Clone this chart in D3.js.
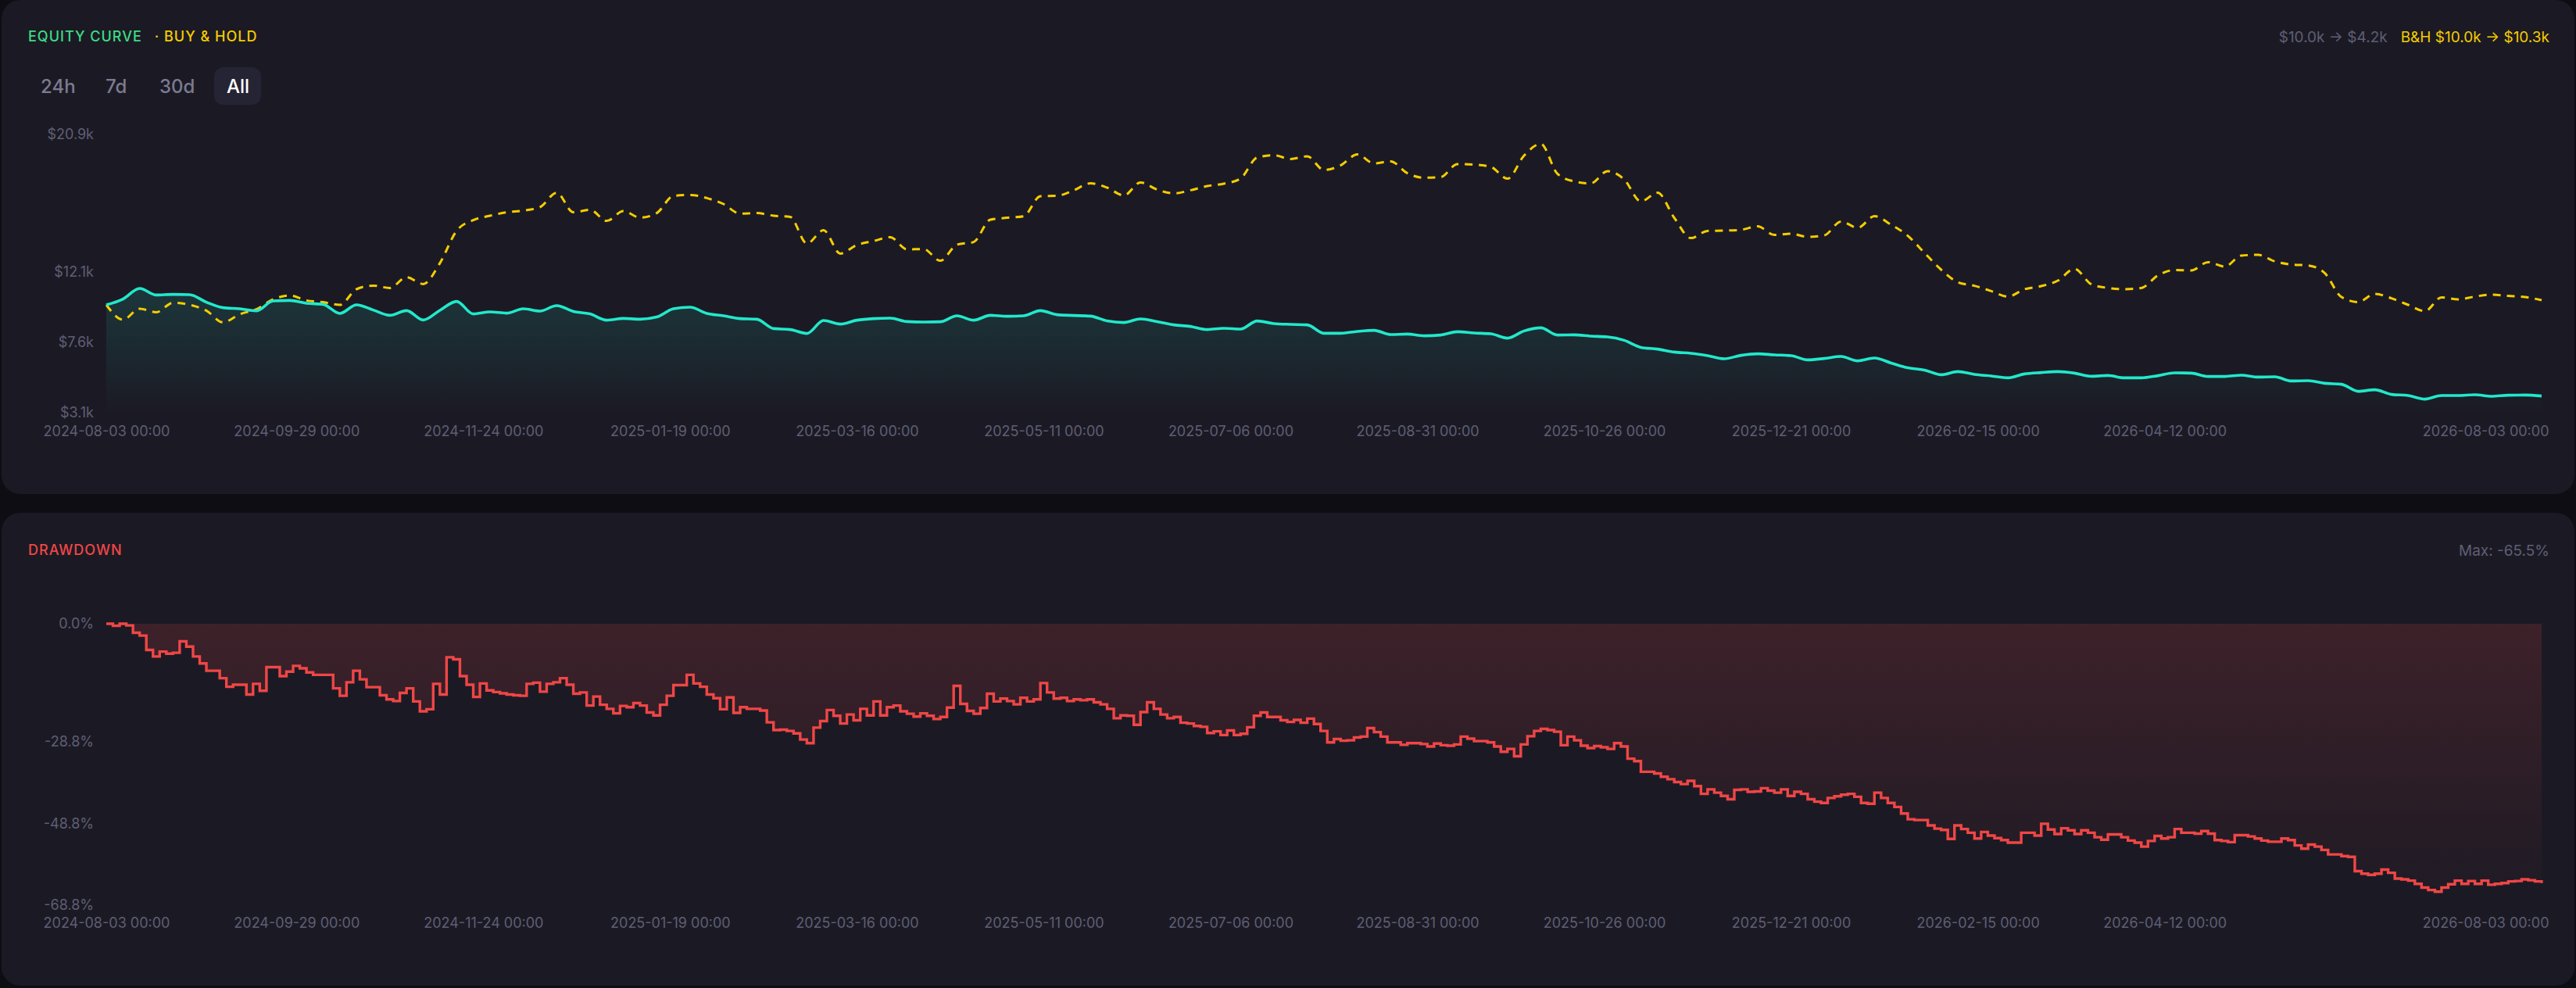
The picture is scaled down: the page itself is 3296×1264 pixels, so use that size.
<!DOCTYPE html>
<html>
<head>
<meta charset="utf-8">
<script src="https://cdn.jsdelivr.net/npm/d3@7"></script>
<style>
  html, body { margin: 0; padding: 0; background: #0e0d14; }
  body { width: 3296px; height: 1264px; overflow: hidden; }
  svg text { font-family: Inter, "Noto Sans", sans-serif; }
</style>
</head>
<body>
<svg id="chart" width="3296" height="1264"></svg>
<script>
/* global d3 */

const startDate = new Date(2024, 7, 3)
// equity + buy & hold: one sample every 5 days, drawdown: every 2 days
const stepDays = 5
const ddStepDays = 2

// strategy equity, in $k
const equity = [
  10.0, 10.37, 11.05, 10.63, 10.67, 10.65, 10.17, 9.82, 9.75, 9.62, 10.25, 10.28, 10.10, 10.03, 9.45, 10.0, 9.67, 9.33, 9.63,
  9.03, 9.65, 10.22, 9.42, 9.55, 9.47, 9.75, 9.6, 9.95, 9.58, 9.42, 9.02, 9.13, 9.08, 9.22, 9.75, 9.85, 9.45,
  9.30, 9.12, 9.08, 8.48, 8.42, 8.17, 9.0, 8.77, 9.02, 9.12, 9.15, 8.93, 8.9, 8.92, 9.3, 9.02, 9.33, 9.27, 9.3,
  9.63, 9.37, 9.32, 9.28, 8.97, 8.87, 9.1, 8.93, 8.72, 8.62, 8.42, 8.5, 8.45, 8.97, 8.8, 8.75, 8.72, 8.18,
  8.18, 8.3, 8.37, 8.1, 8.13, 8.02, 8.07, 8.28, 8.2, 8.15, 7.87, 8.33, 8.53, 8.07, 8.08, 8.0, 7.95, 7.73,
  7.28, 7.17, 6.98, 6.9, 6.75, 6.55, 6.77, 6.87, 6.8, 6.75, 6.48, 6.57, 6.7, 6.42, 6.6, 6.28, 5.97, 5.83,
  5.53, 5.73, 5.55, 5.45, 5.33, 5.58, 5.67, 5.73, 5.63, 5.43, 5.48, 5.33, 5.33, 5.47, 5.65, 5.63, 5.42, 5.42,
  5.5, 5.38, 5.4, 5.13, 5.15, 4.98, 4.92, 4.47, 4.57, 4.27, 4.2, 3.97, 4.2, 4.2, 4.25, 4.15, 4.22, 4.23, 4.17
]

// buy & hold benchmark, in $k
const buyHold = [
  10.0, 9.05, 9.75, 9.53, 10.13, 10.0, 9.63, 8.88, 9.4, 9.72, 10.35, 10.6, 10.28, 10.17, 10.0, 11.0, 11.23, 11.08, 11.77,
  11.33, 12.67, 14.73, 15.42, 15.7, 15.92, 16.03, 16.25, 17.17, 15.92, 16.08, 15.37, 16.0, 15.58, 15.87, 16.97, 17.03, 16.83,
  16.45, 15.83, 15.87, 15.7, 15.63, 13.92, 14.77, 13.28, 13.83, 14.08, 14.33, 13.55, 13.57, 12.82, 13.85, 14.02, 15.45, 15.57, 15.67,
  16.95, 16.98, 17.33, 17.77, 17.5, 17.0, 17.83, 17.37, 17.13, 17.33, 17.6, 17.75, 18.08, 19.43, 19.57, 19.33, 19.5, 18.63,
  18.92, 19.62, 19.05, 19.18, 18.42, 18.13, 18.17, 19.0, 18.97, 18.83, 18.07, 19.55, 20.3, 18.38, 17.9, 17.77, 18.55, 18.02,
  16.62, 17.17, 15.57, 14.27, 14.73, 14.75, 14.8, 15.02, 14.47, 14.55, 14.35, 14.45, 15.33, 14.93, 15.67, 15.13, 14.42, 13.33,
  12.25, 11.45, 11.22, 10.88, 10.53, 11.0, 11.2, 11.55, 12.3, 11.32, 11.08, 11.0, 11.08, 11.88, 12.23, 12.2, 12.73, 12.45,
  13.15, 13.2, 12.78, 12.58, 12.52, 12.03, 10.5, 10.18, 10.7, 10.42, 10.0, 9.6, 10.48, 10.35, 10.53, 10.65, 10.57, 10.5, 10.3
]

// drawdown of the strategy, in %
const drawdown = [
  0, -0.5, 0, -0.4, -2.2, -2.9, -6.4, -8.0, -6.8, -7.3, -7.1, -4.3, -5.6, -8.0, -9.7, -11.5, -11.5, -13.3, -15.4, -14.9,
  -14.9, -17.3, -14.7, -16.4, -10.6, -10.6, -12.8, -11.7, -10.3, -10.9, -11.9, -12.5, -12.5, -12.5, -15.8, -17.6, -14.3, -11.5, -13.6, -15.5,
  -15.5, -17.5, -18.5, -18.9, -16.9, -15.8, -19.0, -21.4, -20.9, -14.7, -17.3, -8.2, -8.7, -12.8, -14.9, -17.9, -14.6, -16.3, -16.7, -17.0,
  -17.3, -17.5, -17.6, -14.7, -14.4, -16.6, -14.7, -14.3, -13.3, -14.9, -17.1, -16.8, -20.0, -17.8, -19.8, -20.8, -21.9, -20.1, -20.4, -19.4,
  -20.0, -21.7, -22.4, -19.8, -17.6, -15.0, -15.0, -12.5, -14.6, -15.4, -17.3, -18.2,
  -20.9, -18.0, -21.8, -20.4, -20.8, -20.8, -21.2, -24.1, -26.0, -25.9,
  -26.2, -26.8, -28.3, -29.2, -25.4, -23.8, -21.1, -22.5, -24.4, -22.2,
  -23.6, -20.8, -22.4, -19.0, -22.4, -20.4, -20.0, -21.4, -22.0, -22.7,
  -21.9, -22.5, -23.3, -22.8, -20.5, -15.2, -19.6, -21.3, -22.0, -20.6,
  -17.1, -19.0, -18.3, -18.9, -19.7, -18.1, -19.0, -18.5, -14.5, -16.8,
  -18.3, -18.1, -18.9, -18.5, -18.7, -18.5, -19.2, -19.7, -20.8, -23.1,
  -22.4, -22.5, -24.7, -21.6, -19.2, -20.8, -22.2, -23.1, -22.8, -24.2,
  -24.4, -25.0, -25.2, -26.7, -26.3, -27.2, -26.1, -27.2, -26.9, -25.3,
  -22.5, -21.7, -22.8, -22.8, -23.6, -24.0, -23.5, -24.2, -23.2, -24.5, -26.2,
  -29.0, -28.2, -28.6, -28.5, -27.8, -27.6, -25.5, -26.5, -27.6, -29.0,
  -29.0, -29.6, -29.2, -29.2, -29.4, -30.0, -29.3, -29.7, -29.8, -29.5,
  -27.6, -28.1, -28.7, -28.7, -29.0, -30.0, -31.3, -30.6, -32.4, -29.5,
  -27.5, -26.2, -25.7, -26.0, -26.4, -29.7, -27.6, -28.5, -29.8, -30.4,
  -29.9, -30.2, -30.6, -29.2, -30.0, -33.0, -33.6, -36.2, -36.2, -36.6,
  -37.4, -38.0, -38.7, -39.2, -38.4, -39.7, -41.6, -40.5, -41.3, -42.1,
  -42.9, -40.6, -40.5, -41.1, -41.0, -40.2, -40.8, -41.3, -40.5, -42.1,
  -41.1, -41.6, -42.9, -43.5, -43.8, -42.6, -42.2, -41.8, -41.6, -42.3,
  -43.8, -44.0, -41.3, -42.6, -43.8, -44.8, -46.4, -47.8, -48.0, -48.0,
  -49.3, -50.1,
  -50.4, -52.6, -49.3, -50.2, -51.1, -52.5, -50.9, -51.8, -52.4, -52.9,
  -53.5, -53.5, -51.1, -51.1, -51.8, -48.9, -50.3, -51.4, -50.0, -50.5,
  -51.4, -50.5, -51.1, -52.2, -52.8, -51.5, -51.5, -52.2, -53.0, -53.5,
  -54.5, -53.1, -51.9, -52.5, -52.2, -50.2, -51.1, -51.1, -51.3, -50.7,
  -51.3, -52.9, -53.1, -53.4, -51.7, -51.7, -52.0, -52.5, -53.0, -53.3,
  -53.3, -52.5, -52.9, -54.2, -55.0, -54.0, -54.5, -55.3, -56.4, -56.4,
  -56.8, -57.0, -60.5, -61.1, -61.4, -61.1, -60.1, -60.9, -62.3, -62.5,
  -62.8, -63.6, -64.5, -65.1, -65.5, -64.5, -63.7, -62.8, -63.6, -62.9,
  -63.6, -62.8, -63.8, -63.6, -63.4, -63.0, -62.9, -62.5, -62.7, -63.0, -63.4
]

const equityTicks = [3.1, 7.6, 12.1, 20.9]
const drawdownTicks = [0, -28.8, -48.8, -68.8]
const dateTicks = [
  "2024-08-03", "2024-09-29", "2024-11-24", "2025-01-19", "2025-03-16", "2025-05-11", "2025-07-06",
  "2025-08-31", "2025-10-26", "2025-12-21", "2026-02-15", "2026-04-12", "2026-08-03"
]
const ranges = ["24h", "7d", "30d", "All"]
const activeRange = "All"

const colors = {
  panel: "#1b1a24",
  label: "#5f5e74",
  button: "#7c7b92",
  equity: "#22e8cb",
  title: "#3ddc84",
  hold: "#f5cc00",
  red: "#f04646"
}

const dates = equity.map((_, i) => d3.timeDay.offset(startDate, i * stepDays))
const ddDates = drawdown.map((_, i) => d3.timeDay.offset(startDate, i * ddStepDays))
const fmtDate = d3.timeFormat("%Y-%m-%d %H:%M")
const parseDay = d3.timeParse("%Y-%m-%d")

const svg = d3.select("#chart")
const defs = svg.append("defs")

// panels
const panels = [{ y: 0, h: 632 }, { y: 656, h: 605 }]
svg.selectAll("rect.panel")
  .data(panels)
  .join("rect")
  .attr("class", "panel")
  .attr("x", 2)
  .attr("y", d => d.y)
  .attr("width", 3292)
  .attr("height", d => d.h)
  .attr("rx", 24)
  .attr("fill", colors.panel)

const x = d3.scaleTime()
  .domain(d3.extent(dates))
  .range([136, 3252])

const yEq = d3.scaleLinear()
  .domain([3.1, 20.9])
  .range([528, 172])

const yDd = d3.scaleLinear()
  .domain([-68.8, 0])
  .range([1158, 798])

const styleAxis = g => {
  g.select(".domain").remove()
  g.attr("font-family", null).attr("font-size", null)
  g.selectAll("text")
    .attr("fill", colors.label)
    .style("font-size", "18px")
}

const drawDateAxis = (yPos) => {
  const g = svg.append("g")
    .attr("transform", `translate(0, ${yPos})`)
    .call(
      d3.axisBottom(x)
        .tickValues(dateTicks.map(parseDay))
        .tickFormat(fmtDate)
        .tickSize(0)
        .tickPadding(0)
    )
    .call(styleAxis)
  // keep the last label inside the panel
  g.selectAll(".tick:last-of-type text")
    .attr("text-anchor", "end")
    .attr("dx", 9)
}

// ---------- equity panel ----------
const title = svg.append("text")
  .attr("x", 36)
  .attr("y", 52.5)
  .style("font-size", "18px")
  .style("font-weight", 500)
  .style("letter-spacing", "1px")
title.append("tspan").attr("fill", colors.title).text("EQUITY CURVE")
title.append("tspan").attr("fill", colors.hold).attr("dx", 16).text("· BUY & HOLD")

const holdStat = svg.append("text")
  .attr("x", 3262)
  .attr("y", 54)
  .attr("text-anchor", "end")
  .attr("fill", colors.hold)
  .style("font-size", "19px")
  .text(`B&H $${buyHold[0].toFixed(1)}k → $${buyHold[buyHold.length - 1].toFixed(1)}k`)

const holdLeft = 3262 - holdStat.node().getComputedTextLength()
svg.append("text")
  .attr("x", holdLeft - 17)
  .attr("y", 54)
  .attr("text-anchor", "end")
  .attr("fill", colors.label)
  .style("font-size", "19px")
  .text(`$${equity[0].toFixed(1)}k → $${equity[equity.length - 1].toFixed(1)}k`)

// range buttons
const buttonX = [52, 135, 204, 290]
const buttons = svg.selectAll("g.range")
  .data(ranges)
  .join("g")
  .attr("class", "range")
  .attr("transform", (d, i) => `translate(${buttonX[i]}, 0)`)

buttons.filter(d => d === activeRange)
  .append("rect")
  .attr("x", -16)
  .attr("y", 86)
  .attr("width", 60)
  .attr("height", 48)
  .attr("rx", 12)
  .attr("fill", "#252434")

buttons.append("text")
  .attr("y", 119)
  .attr("fill", d => d === activeRange ? "#ffffff" : colors.button)
  .style("font-size", "24px")
  .style("font-weight", 500)
  .text(d => d)

const eqGrad = defs.append("linearGradient")
  .attr("id", "eqFill")
  .attr("gradientUnits", "userSpaceOnUse")
  .attr("x1", 0).attr("x2", 0)
  .attr("y1", yEq(d3.max(equity)))
  .attr("y2", yEq(3.1))
eqGrad.append("stop").attr("offset", "0%").attr("stop-color", colors.equity).attr("stop-opacity", 0.14)
eqGrad.append("stop").attr("offset", "100%").attr("stop-color", colors.equity).attr("stop-opacity", 0)

svg.append("g")
  .attr("transform", "translate(120, 0)")
  .call(
    d3.axisLeft(yEq)
      .tickValues(equityTicks)
      .tickFormat(v => `$${v.toFixed(1)}k`)
      .tickSize(0)
      .tickPadding(0)
  )
  .call(styleAxis)

drawDateAxis(545)

svg.append("path")
  .datum(equity)
  .attr("fill", "url(#eqFill)")
  .attr("d", d3.area()
    .x((d, i) => x(dates[i]))
    .y0(yEq(3.1))
    .y1(d => yEq(d))
    .curve(d3.curveMonotoneX))

svg.append("path")
  .datum(buyHold)
  .attr("fill", "none")
  .attr("stroke", colors.hold)
  .attr("stroke-width", 3)
  .attr("stroke-dasharray", "10,8")
  .attr("d", d3.line()
    .x((d, i) => x(dates[i]))
    .y(d => yEq(d))
    .curve(d3.curveMonotoneX))

svg.append("path")
  .datum(equity)
  .attr("fill", "none")
  .attr("stroke", colors.equity)
  .attr("stroke-width", 3.6)
  .attr("stroke-linejoin", "round")
  .attr("d", d3.line()
    .x((d, i) => x(dates[i]))
    .y(d => yEq(d))
    .curve(d3.curveMonotoneX))

// ---------- drawdown panel ----------
svg.append("text")
  .attr("x", 36)
  .attr("y", 709.5)
  .attr("fill", colors.red)
  .style("font-size", "18px")
  .style("font-weight", 500)
  .style("letter-spacing", "1px")
  .text("DRAWDOWN")

svg.append("text")
  .attr("x", 3262)
  .attr("y", 711)
  .attr("text-anchor", "end")
  .attr("fill", colors.label)
  .style("font-size", "19px")
  .text(`Max: ${d3.min(drawdown).toFixed(1)}%`)

const ddGrad = defs.append("linearGradient")
  .attr("id", "ddFill")
  .attr("gradientUnits", "userSpaceOnUse")
  .attr("x1", 0).attr("x2", 0)
  .attr("y1", yDd(0))
  .attr("y2", yDd(d3.min(drawdown)))
ddGrad.append("stop").attr("offset", "0%").attr("stop-color", colors.red).attr("stop-opacity", 0.16)
ddGrad.append("stop").attr("offset", "100%").attr("stop-color", colors.red).attr("stop-opacity", 0.02)

svg.append("g")
  .attr("transform", "translate(120, 0)")
  .call(
    d3.axisLeft(yDd)
      .tickValues(drawdownTicks)
      .tickFormat(v => `${v.toFixed(1)}%`)
      .tickSize(0)
      .tickPadding(0)
  )
  .call(styleAxis)

drawDateAxis(1174)

svg.append("path")
  .datum(drawdown)
  .attr("fill", "url(#ddFill)")
  .attr("d", d3.area()
    .x((d, i) => x(ddDates[i]))
    .y0(yDd(0))
    .y1(d => yDd(d))
    .curve(d3.curveStepAfter))

svg.append("path")
  .datum(drawdown)
  .attr("fill", "none")
  .attr("stroke", colors.red)
  .attr("stroke-width", 3.4)
  .attr("d", d3.line()
    .x((d, i) => x(ddDates[i]))
    .y(d => yDd(d))
    .curve(d3.curveStepAfter))
</script>
</body>
</html>
